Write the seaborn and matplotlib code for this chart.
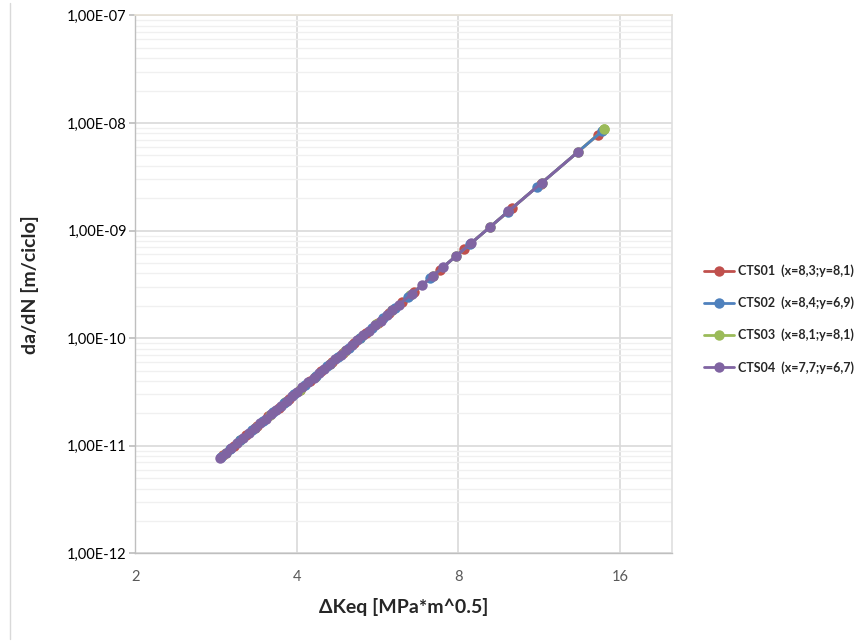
import pandas as pd
import seaborn as sns
import matplotlib.pyplot as plt
from matplotlib.ticker import LogLocator, FixedLocator, FuncFormatter, NullFormatter, NullLocator
from matplotlib.lines import Line2D

# Datos (Delta K eq [MPa*m^0.5], da/dN [m/ciclo])
cts01_dk = [2.92, 3.06, 3.22, 3.38, 3.54, 3.70, 3.87, 4.05, 4.24, 4.44, 4.65, 4.88,
            5.12, 5.38, 5.66, 5.95, 6.28, 6.62, 7.40, 8.21, 10.09, 11.39, 14.55]
cts01_dadn = [8.24e-12, 1.006e-11, 1.251e-11, 1.537e-11, 1.873e-11, 2.261e-11, 2.737e-11,
              3.325e-11, 4.043e-11, 4.92e-11, 5.99e-11, 7.36e-11, 9.03e-11, 1.115e-10,
              1.384e-10, 1.713e-10, 2.158e-10, 2.701e-10, 4.340e-10, 6.757e-10, 1.628e-9,
              2.728e-9, 7.75e-9]

cts02_dk = [2.89, 3.00, 3.14, 3.30, 3.46, 3.62, 3.79, 3.96, 4.14, 4.34, 4.55, 4.77,
            5.00, 5.25, 5.52, 5.80, 6.10, 6.45, 7.09, 8.40, 9.90, 11.19, 14.81]
cts02_dadn = [7.88e-12, 9.24e-12, 1.123e-11, 1.388e-11, 1.699e-11, 2.059e-11, 2.504e-11,
              3.020e-11, 3.650e-11, 4.464e-11, 5.46e-11, 6.68e-11, 8.16e-11, 1.005e-10,
              1.244e-10, 1.536e-10, 1.905e-10, 2.417e-10, 3.614e-10, 7.45e-10, 1.501e-9,
              2.529e-9, 8.36e-9]

cts03_dk = [2.95, 3.14, 3.34, 3.56, 3.80, 4.05, 4.32, 4.61, 4.92, 5.25, 5.62, 6.03,
            6.50, 7.17, 7.92, 9.17, 11.43, 13.35, 14.94]
cts03_dadn = [8.61e-12, 1.123e-11, 1.461e-11, 1.917e-11, 2.533e-11, 3.325e-11, 4.376e-11,
              5.774e-11, 7.62e-11, 1.005e-10, 1.343e-10, 1.813e-10, 2.496e-10, 3.793e-10,
              5.797e-10, 1.083e-9, 2.770e-9, 5.37e-9, 8.72e-9]

cts04_dk = [2.88, 2.95, 3.02, 3.10, 3.18, 3.26, 3.34, 3.42, 3.50, 3.58, 3.66, 3.74,
            3.83, 3.92, 4.01, 4.10, 4.20, 4.30, 4.40, 4.50, 4.61, 4.72, 4.83, 4.95,
            5.07, 5.19, 5.32, 5.45, 5.59, 5.73, 5.88, 6.03, 6.20, 6.55, 6.84, 7.17,
            7.48, 7.92, 8.44, 9.17, 9.91, 11.43, 13.35]
cts04_dadn = [7.77e-12, 8.61e-12, 9.51e-12, 1.064e-11, 1.186e-11, 1.318e-11, 1.461e-11,
              1.616e-11, 1.784e-11, 1.965e-11, 2.159e-11, 2.367e-11, 2.619e-11, 2.892e-11,
              3.184e-11, 3.503e-11, 3.879e-11, 4.291e-11, 4.733e-11, 5.206e-11, 5.774e-11,
              6.380e-11, 7.04e-11, 7.82e-11, 8.66e-11, 9.57e-11, 1.063e-10, 1.179e-10,
              1.313e-10, 1.460e-10, 1.629e-10, 1.813e-10, 2.042e-10, 2.580e-10, 3.105e-10,
              3.793e-10, 4.544e-10, 5.797e-10, 7.60e-10, 1.083e-9, 1.508e-9, 2.770e-9,
              5.37e-9]

etiquetas = ["CTS01  (x=8,3;y=8,1)", "CTS02  (x=8,4;y=6,9)",
             "CTS03  (x=8,1;y=8,1)", "CTS04  (x=7,7;y=6,7)"]
colores = ["#C0504D", "#4F81BD", "#9BBB59", "#8064A2"]
x_ticks = [2, 4, 8, 16]

sns.set_theme(style="white")
plt.rcParams['font.family'] = ['Lato', 'DejaVu Sans']

fig, ax = plt.subplots(figsize=(8.66, 6.42), dpi=100)
fig.subplots_adjust(left=0.156, right=0.776, top=0.976, bottom=0.138)

series = [(cts01_dk, cts01_dadn), (cts02_dk, cts02_dadn),
          (cts03_dk, cts03_dadn), (cts04_dk, cts04_dadn)]
orden_z = [2.0, 2.2, 2.1, 2.3]
msize = 7.5
lw = 2.0

for (dk, dadn), color, z in zip(series, colores, orden_z):
    df = pd.DataFrame({'dK': dk, 'dadN': dadn})
    sns.lineplot(data=df, x='dK', y='dadN', ax=ax, color=color, marker='o',
                 markersize=msize, markeredgewidth=0, linewidth=lw, sort=False,
                 estimator=None, legend=False, zorder=z)

# ultimo punto de CTS03 queda por encima
ax.plot(cts03_dk[-1:], cts03_dadn[-1:], marker='o', ls='none', color=colores[2],
        markersize=msize, markeredgewidth=0, zorder=3)

ax.set_xscale('log', base=2)
ax.set_yscale('log')
ax.set_xlim(2, 20)
ax.set_ylim(1e-12, 1e-7)

ax.xaxis.set_major_locator(FixedLocator(x_ticks))
ax.xaxis.set_major_formatter(FuncFormatter(lambda v, p: f"{v:g}"))
ax.xaxis.set_minor_locator(NullLocator())
ax.yaxis.set_major_locator(LogLocator(base=10, numticks=10))
ax.yaxis.set_minor_locator(LogLocator(base=10, subs=range(2, 10), numticks=20))
ax.yaxis.set_minor_formatter(NullFormatter())
ax.yaxis.set_major_formatter(FuncFormatter(lambda v, p: f"{v:.2E}".replace('.', ',')))

ax.grid(which='major', axis='both', color='#D9D9D9', linewidth=1.2)
ax.grid(which='minor', axis='y', color='#F0F0F0', linewidth=1.0)
ax.set_axisbelow(True)

for lado in ['left', 'bottom']:
    ax.spines[lado].set_color('#BFBFBF')
    ax.spines[lado].set_linewidth(1.0)
ax.spines['top'].set_color('#E6E1D6')
ax.spines['right'].set_color('#E0E0E0')

ax.tick_params(axis='y', which='major', left=True, length=4, color='#BFBFBF',
               labelsize=10.5, labelcolor='black', pad=2)
ax.tick_params(axis='y', which='minor', length=0)
ax.tick_params(axis='x', which='major', bottom=True, length=0, labelsize=10.5,
               labelcolor='#595959', pad=12)

ax.set_xlabel("ΔKeq [MPa*m^0.5]", fontsize=14, fontweight='bold', labelpad=10)
ax.set_ylabel("da/dN [m/ciclo]", fontsize=14, fontweight='bold', labelpad=20)

handles = [Line2D([], [], color=c, marker='o', markersize=msize, markeredgewidth=0,
                  linewidth=lw) for c in colores]
fig.legend(handles, etiquetas, loc='center left', bbox_to_anchor=(0.813, 0.503),
           frameon=False, handlelength=2.4, handletextpad=0.3, labelspacing=1.55,
           borderaxespad=0, borderpad=0, prop={'weight': 'bold', 'size': 9})

fig.add_artist(Line2D([9.5 / 866, 9.5 / 866], [0.005, 0.995], color='#D9D9D9', linewidth=1.0))

fig.savefig("out.png", dpi=100)
